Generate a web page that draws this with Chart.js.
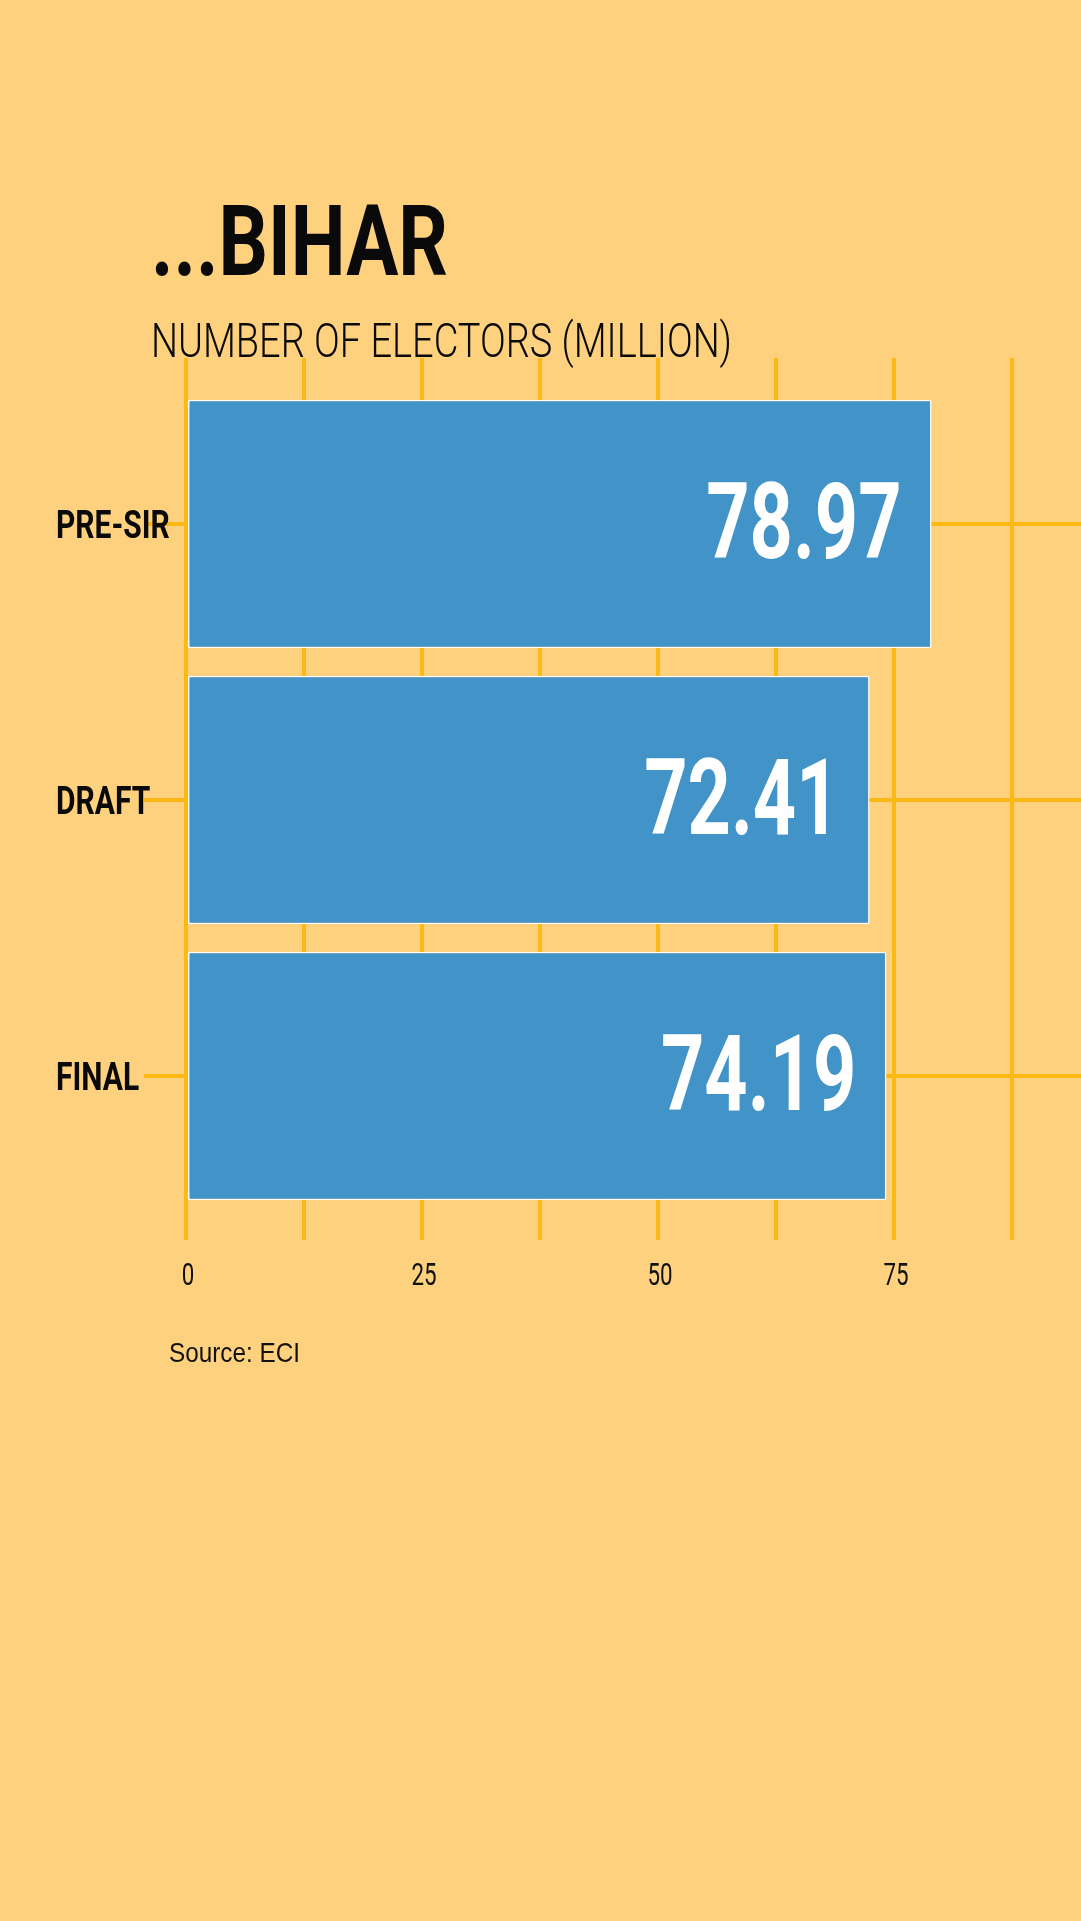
<!DOCTYPE html>
<html>
<head>
<meta charset="utf-8">
<title>Bihar electors</title>
<script src="https://cdn.jsdelivr.net/npm/chart.js@4"></script>
<style>
  html, body { margin: 0; padding: 0; background: #fed17e; }
  #chart { display: block; }
</style>
</head>
<body>
<canvas id="chart" width="1081" height="1921"></canvas>
<script>
// data
const categories = ['PRE-SIR', 'DRAFT', 'FINAL'];
const electors = [78.97, 72.41, 74.19];
const tickValues = [0, 25, 50, 75];
const gridStep = 12.5;

const titleText = '...BIHAR';
const subtitleText = 'NUMBER OF ELECTORS (MILLION)';
const sourceText = 'Source: ECI';

const BG = '#fed17e';
const GOLD = '#fdb913';
const BAR = '#4193c8';

// draws text squeezed horizontally by sx (there is no condensed face installed)
function drawCondensed(ctx, text, x, y, font, sx, align, color) {
    ctx.save();
    ctx.font = font;
    ctx.fillStyle = color;
    ctx.textAlign = 'left';
    ctx.textBaseline = 'alphabetic';
    const w = ctx.measureText(text).width * sx;
    const left = align === 'right' ? x - w : align === 'center' ? x - w / 2 : x;
    ctx.translate(left, y);
    ctx.scale(sx, 1);
    ctx.fillText(text, 0, 0);
    ctx.restore();
}

// same, but squeeze so the text is exactly `width` wide
function drawFitted(ctx, text, x, y, font, width, color) {
    ctx.save();
    ctx.font = font;
    const sx = width / ctx.measureText(text).width;
    ctx.restore();
    drawCondensed(ctx, text, x, y, font, sx, 'left', color);
}

const textPlugin = {
    id: 'texts',
    beforeDraw(chart) {
        const ctx = chart.ctx;
        ctx.save();
        ctx.fillStyle = BG;
        ctx.fillRect(0, 0, chart.width, chart.height);
        ctx.restore();
    },
    afterDraw(chart) {
        const ctx = chart.ctx;
        const xs = chart.scales.x;
        const ys = chart.scales.y;

        drawFitted(ctx, titleText, 151, 275, '700 98px Roboto', 297, '#0a0a0a');
        drawFitted(ctx, subtitleText, 151, 357, '300 49px Roboto', 581, '#0a0a0a');
        drawFitted(ctx, sourceText, 169, 1362, '28px "Liberation Sans"', 131, '#111');

        // category labels, left aligned, over the tick marks
        categories.forEach((label, i) => {
            const y = ys.getPixelForValue(i);
            drawCondensed(ctx, label, 56, y + 14, '700 39px Roboto', 0.77, 'left', '#0a0a0a');
        });

        // x tick labels
        tickValues.forEach(v => {
            const x = xs.getPixelForValue(v);
            drawCondensed(ctx, String(v), x + 2, 1285, '400 31px Roboto', 0.72, 'center', '#111');
        });

        // value labels inside the bars
        const meta = chart.getDatasetMeta(0);
        meta.data.forEach((bar, i) => {
            drawCondensed(ctx, electors[i].toFixed(2), bar.x - 30, bar.y + 34,
                '700 105px Roboto', 0.72, 'right', '#ffffff');
        });
    }
};

const keepGridSteps = scale => {
    scale.ticks = scale.ticks.filter(t => Math.abs(t.value / gridStep - Math.round(t.value / gridStep)) < 1e-6);
};

const gridOpts = (tickLength, onArea) => ({
    color: GOLD,
    lineWidth: 4,
    drawTicks: true,
    tickLength: tickLength,
    drawOnChartArea: onArea
});

new Chart(document.getElementById('chart'), {
    type: 'bar',
    data: {
        labels: categories,
        datasets: [{
            data: electors,
            backgroundColor: BAR,
            borderColor: '#ffffff',
            borderWidth: 1.5,
            borderSkipped: false,
            categoryPercentage: 1,
            barPercentage: 0.9,
            xAxisID: 'x',
            yAxisID: 'y'
        }]
    },
    options: {
        indexAxis: 'y',
        responsive: false,
        animation: false,
        layout: { padding: { top: 358, bottom: 621, left: 56, right: 0 } },
        scales: {
            x: {
                position: 'bottom',
                min: 0,
                max: 94.8,
                ticks: { stepSize: gridStep, display: false },
                grid: gridOpts(26, true),
                border: { display: false },
                afterBuildTicks: keepGridSteps,
                afterFit: s => { s.height = 86; }
            },
            x2: {
                position: 'top',
                min: 0,
                max: 94.8,
                ticks: { stepSize: gridStep, display: false },
                grid: gridOpts(28, false),
                border: { display: false },
                afterBuildTicks: keepGridSteps,
                afterFit: s => { s.height = 28; }
            },
            y: {
                position: 'left',
                ticks: { display: false },
                grid: Object.assign(gridOpts(42, true), { offset: false }),
                border: { display: false },
                afterFit: s => { s.width = 130; }
            }
        },
        plugins: {
            legend: { display: false },
            tooltip: { enabled: false },
            title: { display: false }
        }
    },
    plugins: [textPlugin]
});
</script>
</body>
</html>
